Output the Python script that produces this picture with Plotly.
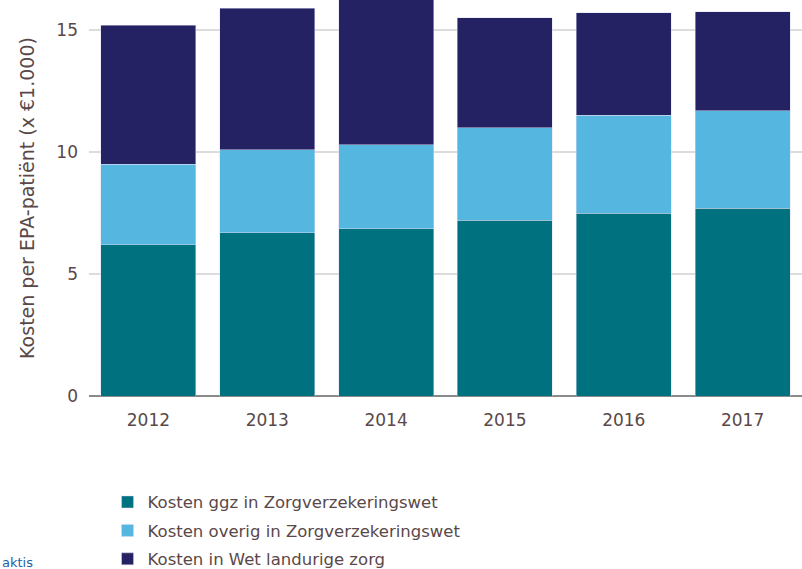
import plotly.graph_objects as go

years = ["2012", "2013", "2014", "2015", "2016", "2017"]
ggz_zvw = [6.2, 6.7, 6.85, 7.2, 7.5, 7.7]
overig_zvw = [3.3, 3.4, 3.45, 3.8, 4.0, 4.0]
wlz = [5.7, 5.8, 6.1, 4.5, 4.2, 4.05]

names = [
    "Kosten ggz in Zorgverzekeringswet",
    "Kosten overig in Zorgverzekeringswet",
    "Kosten in Wet landurige zorg",
]
colors = ["#00717f", "#55b6e0", "#252263"]
series = [ggz_zvw, overig_zvw, wlz]

text_color = "#5a4848"
font_family = "'DejaVu Sans', sans-serif"

fig = go.Figure()
for i, (nm, vals, c) in enumerate(zip(names, series, colors)):
    fig.add_trace(go.Bar(
        x=years, y=vals, name=nm,
        marker=dict(color=c, line=dict(color="rgba(220,220,240,0.8)", width=0.6)),
        legendgroup=f"g{i}",
    ))

fig.update_layout(
    width=802, height=569,
    barmode="stack", bargap=0.2,
    margin=dict(l=89, r=0, t=0, b=173, autoexpand=False),
    paper_bgcolor="white", plot_bgcolor="white",
    font=dict(family=font_family, color=text_color, size=16),
    showlegend=True,
    legend=dict(
        x=0.026, y=-0.224, xanchor="left", yanchor="top",
        orientation="v", traceorder="grouped", tracegroupgap=4,
        font=dict(size=16.5, color=text_color),
        itemwidth=30, bgcolor="rgba(0,0,0,0)",
    ),
    yaxis=dict(
        range=[0, 16.23], tickvals=[0, 5, 10, 15],
        showgrid=True, gridcolor="#dcdcdc", gridwidth=1.5,
        zeroline=True, zerolinecolor="#8a8a8a", zerolinewidth=2,
        ticks="", ticklabelstandoff=10,
        title=dict(text="Kosten per EPA-patiënt (x €1.000)", font=dict(size=19, color=text_color), standoff=16),
        tickfont=dict(size=17, color=text_color),
    ),
    xaxis=dict(
        showgrid=False, ticks="", showline=False, ticklabelstandoff=12,
        tickfont=dict(size=17, color=text_color),
    ),
)

fig.add_annotation(
    text="aktis", xref="paper", yref="paper",
    x=-0.1248, y=-0.445, xanchor="left", yanchor="bottom",
    showarrow=False, font=dict(size=13, color="#1f5fa8", family=font_family),
)

fig.write_html("out.html", config={"displayModeBar": False},
               post_script="document.body.style.margin='0';")
